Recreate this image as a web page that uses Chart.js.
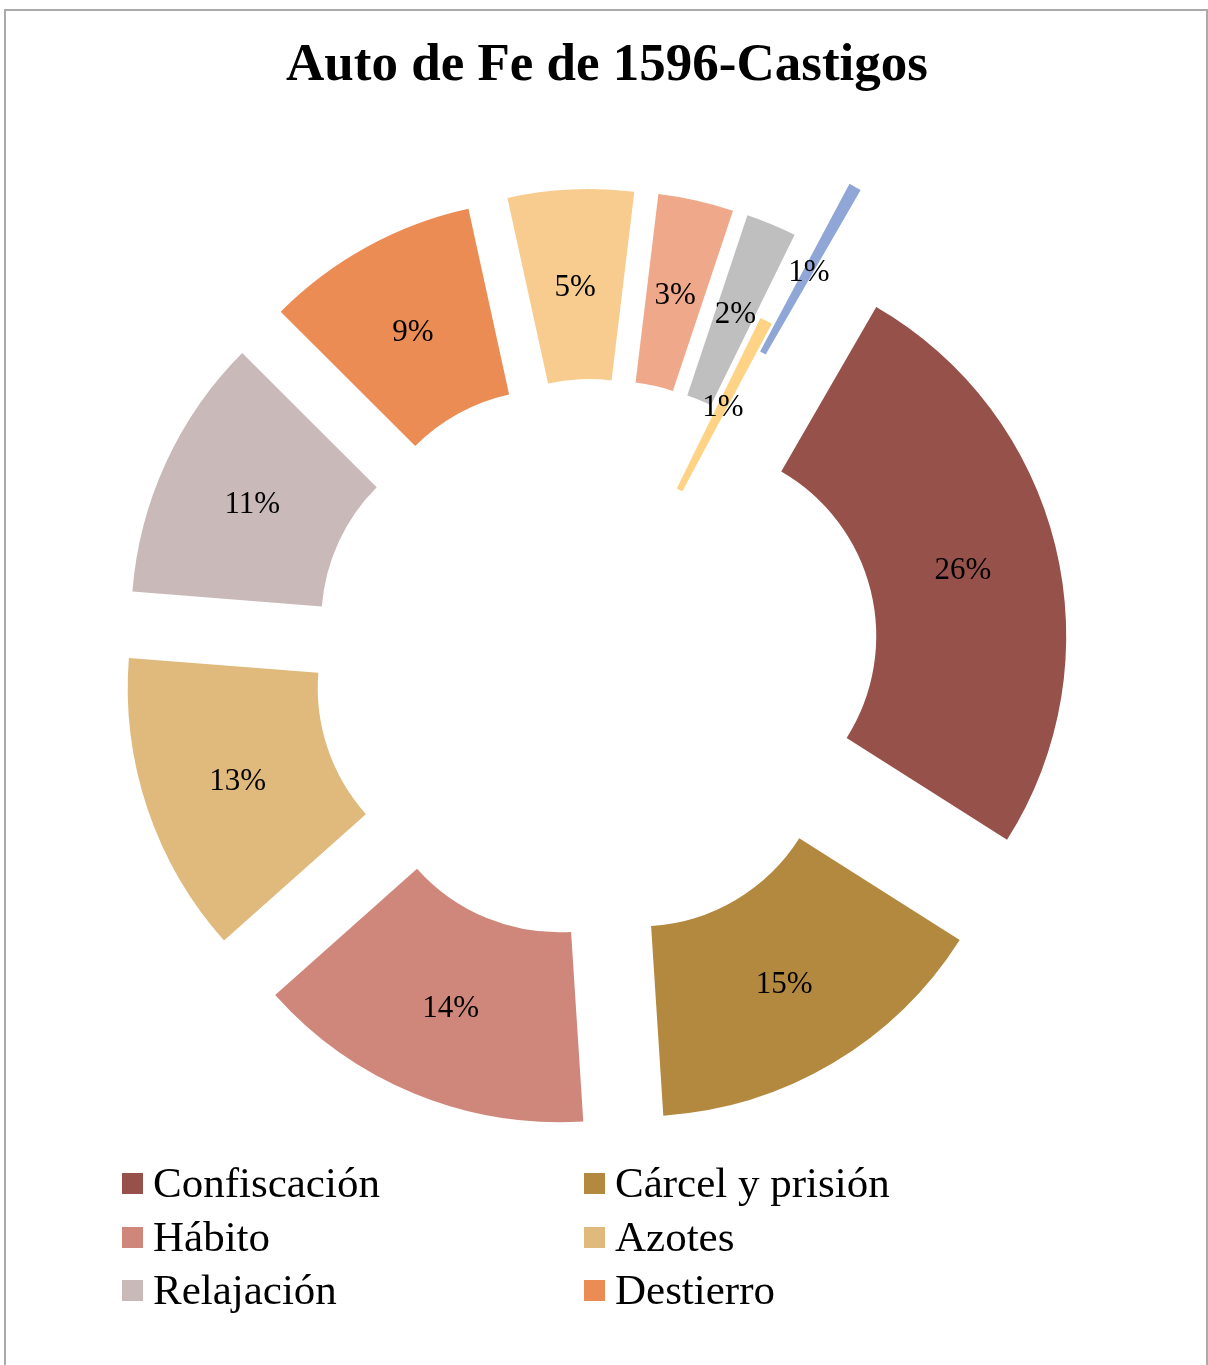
<!DOCTYPE html>
<html>
<head>
<meta charset="utf-8">
<script src="https://cdn.jsdelivr.net/npm/chart.js@4"></script>
<style>
body { margin: 0; background: #fff; width: 1208px; height: 1365px; overflow: hidden; position: relative; }
#frame { position: absolute; left: 4px; top: 9px; width: 1204px; height: 1400px; border: 2px solid #aaaaaa; box-sizing: border-box; }
#chartBox { position: absolute; left: 0; top: 0; width: 1186px; height: 1318px; }
#title { position: absolute; left: 0; top: 32px; width: 1214px; text-align: center; font: bold 53px/60px "Liberation Serif", serif; color: #000; }
.leg { position: absolute; font: 43px/54px "Liberation Serif", serif; color: #000; white-space: nowrap; }
.leg i { position: absolute; left: -31px; top: 17px; width: 21px; height: 21px; }
</style>
</head>
<body>
<div id="frame"></div>
<div id="chartBox"><canvas id="doughnut"></canvas></div>
<div id="title">Auto de Fe de 1596-Castigos</div>
<div id="legend"></div>
<script>
// datos
const categories = ['Confiscación', 'Cárcel y prisión', 'Hábito', 'Azotes', 'Relajación', 'Destierro', 'Galeras', 'Multa', 'Vergüenza pública', 'Reclusión', 'Abjuración']
const counts = [48, 28, 27, 24, 21, 17, 10, 6, 4, 1, 1]

// estilo
const colors = ['#96514B', '#B3893F', '#D0877B', '#DFBA7C', '#C9B9B9', '#EC8C55', '#F8CC8F', '#F0A88A', '#BFBFBF', '#FFD386', '#8FA6D6']
const explode = [96, 90, 90, 90, 90, 90, 90, 90, 90, 0, 160] // px hacia fuera, como en Excel
const legendShown = 6

const total = counts.reduce((a, b) => a + b, 0)

// el offset de Chart.js recorta los sectores pequeños, asi que muevo el centro de cada arco
const explodeSlices = {
	id: 'explodeSlices',
	afterDatasetUpdate(chart, args) {
		const arcs = chart.getDatasetMeta(args.index).data
		arcs.forEach((arc, i) => {
			const a = (arc.startAngle + arc.endAngle) / 2
			arc.x += Math.cos(a) * explode[i]
			arc.y += Math.sin(a) * explode[i]
		})
	},
}

const sliceLabels = {
	id: 'sliceLabels',
	afterDatasetsDraw(chart) {
		const ctx = chart.ctx
		const arcs = chart.getDatasetMeta(0).data
		ctx.save()
		ctx.font = '31px "Liberation Serif", serif'
		ctx.fillStyle = '#000'
		ctx.textAlign = 'center'
		ctx.textBaseline = 'middle'
		arcs.forEach((arc, i) => {
			const a = (arc.startAngle + arc.endAngle) / 2
			const r = (arc.innerRadius + arc.outerRadius) / 2
			const pct = Math.round((counts[i] / total) * 100) + '%'
			ctx.fillText(pct, arc.x + Math.cos(a) * r, arc.y + Math.sin(a) * r + 3)
		})
		ctx.restore()
	},
}

const ctx = document.getElementById('doughnut').getContext('2d')
const myChart = new Chart(ctx, {
	type: 'doughnut',
	data: {
		labels: categories,
		datasets: [
			{
				data: counts,
				backgroundColor: colors,
				borderWidth: 0,
				hoverOffset: 0,
			},
		],
	},
	options: {
		responsive: true,
		maintainAspectRatio: false,
		animation: false,
		rotation: 30,
		radius: 380,
		cutout: '50%',
		layout: { padding: 0 },
		events: [],
		plugins: {
			legend: { display: false },
			title: { display: false },
			tooltip: { enabled: false },
		},
	},
	plugins: [explodeSlices, sliceLabels],
})

// leyenda en dos columnas
const legendBox = document.getElementById('legend')
const colX = [153, 615]
const rowTop = [1156, 1210, 1263]
categories.slice(0, legendShown).forEach((name, i) => {
	const item = document.createElement('div')
	item.className = 'leg'
	item.style.left = colX[i % 2] + 'px'
	item.style.top = rowTop[Math.floor(i / 2)] + 'px'
	item.innerHTML = '<i style="background:' + colors[i] + '"></i>' + name
	legendBox.appendChild(item)
})
</script>
</body>
</html>
